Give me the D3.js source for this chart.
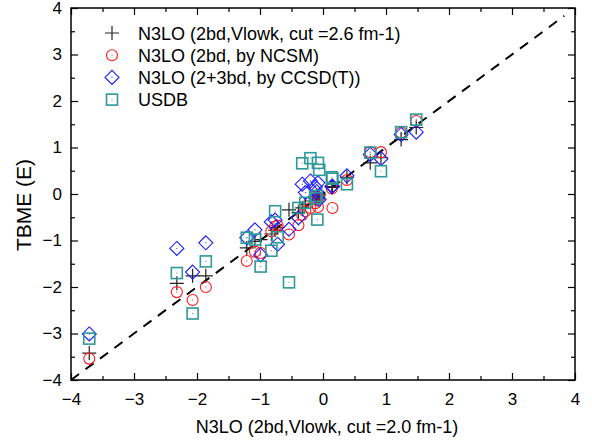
<!DOCTYPE html>
<html lang="en">

<head>
  <meta charset="UTF-8" />
  <script src="https://d3js.org/d3.v7.min.js"></script>
  <title>TBME comparison</title>
  <style>
    body { margin: 0; background: #fff; }
    text { font-family: "Liberation Sans", Arial, sans-serif; }
  </style>
</head>

<body>
  <svg width="592" height="443"></svg>

  <script>
    // x values: N3LO (2bd, Vlowk, cut = 2.0 fm-1)
    const cut20 = [-3.71, -2.32, -2.07, -1.86, -1.21, -1.08, -0.99, -0.82, -0.76, -0.72,
      -0.54, -0.39, -0.33, -0.28, -0.20, -0.12, -0.08, -0.06, -0.09, -0.10,
      0.15, 0.14, 0.38, 0.75, 0.92, 1.24, 1.48];
    // y values of the four series
    const cut26 = [-3.42, -1.92, -1.76, -1.76, -1.16, -1.02, -0.98, -0.86, -0.78, -0.72,
      -0.34, -0.40, -0.30, -0.22, -0.15, -0.10, -0.06, -0.02, -0.10, -0.05,
      0.14, 0.16, 0.36, 0.67, 0.78, 1.17, 1.43];
    const ncsm = [-3.54, -2.11, -2.28, -2.00, -1.44, -1.24, -1.27, -0.80, -0.70, -0.68,
      -0.87, -0.67, -0.45, -0.37, -0.30, -0.20, -0.28, -0.08, -0.13, -0.05,
      -0.30, 0.12, 0.30, 0.90, 0.90, 1.32, 1.57];
    const ccsdt = [-3.01, -1.17, -1.68, -1.05, -0.94, -0.77, -1.31, -0.60, -0.56, -1.08,
      -0.76, -0.51, 0.21, 0.03, 0.28, 0.15, 0.24, -0.12, -0.08, 0.05,
      0.17, 0.16, 0.39, 0.85, 0.76, 1.28, 1.33];
    const usdb = [-3.11, -1.70, -2.57, -1.45, -0.94, -0.98, -1.56, -1.22, -0.37, -0.93,
      -1.90, -0.30, 0.66, -0.19, 0.77, -0.09, 0.67, 0.52, -0.55, -0.04,
      0.33, 0.36, 0.21, 0.89, 0.49, 1.33, 1.60];

    const seriesNames = ["N3LO (2bd,Vlowk, cut =2.6 fm-1)", "N3LO (2bd, by NCSM)",
      "N3LO (2+3bd, by CCSD(T))", "USDB"];
    const majorTicks = [-4, -3, -2, -1, 0, 1, 2, 3, 4];
    const minorTicks = [-3.5, -2.5, -1.5, -0.5, 0.5, 1.5, 2.5, 3.5];

    const svg = d3.select("svg");
    const margin = { top: 8, right: 17, bottom: 63, left: 71 };
    const width = 592 - margin.left - margin.right;
    const height = 443 - margin.top - margin.bottom;

    const x = d3.scaleLinear().domain([-4, 4]).range([0, width]);
    const y = d3.scaleLinear().domain([-4, 4]).range([height, 0]);

    const chart = svg.append("g")
      .attr("transform", `translate(${margin.left},${margin.top})`);

    // axes, ticks pointing inward
    function addAxis(axis, transform, labels) {
      const g = chart.append("g").attr("transform", transform);
      g.call(axis.tickValues(majorTicks).tickSize(-7).tickPadding(labels ? 0 : 0)
        .tickFormat(labels ? d3.format("d") : ""));
      g.select(".domain").remove();
      g.selectAll("line").attr("stroke", "#000").attr("stroke-width", 1.2);
      const m = chart.append("g").attr("transform", transform);
      m.call(axis.tickValues(minorTicks).tickSize(-4).tickFormat(""));
      m.select(".domain").remove();
      m.selectAll("line").attr("stroke", "#000").attr("stroke-width", 1.2);
      return g;
    }

    const xb = addAxis(d3.axisBottom(x), `translate(0,${height})`, true);
    xb.selectAll("text").attr("y", 13).attr("font-size", 17).attr("fill", "#000");
    addAxis(d3.axisTop(x), "translate(0,0)", false);
    const yl = addAxis(d3.axisLeft(y), "translate(0,0)", true);
    yl.selectAll("text").attr("x", -9).attr("font-size", 17).attr("fill", "#000");
    addAxis(d3.axisRight(y), `translate(${width},0)`, false);

    chart.append("rect")
      .attr("width", width).attr("height", height)
      .attr("fill", "none").attr("stroke", "#000").attr("stroke-width", 1.5);

    // y = x reference line
    chart.append("line")
      .attr("x1", x(-4)).attr("y1", y(-4))
      .attr("x2", x(3.83)).attr("y2", y(3.83))
      .attr("stroke", "#000").attr("stroke-width", 2)
      .attr("stroke-dasharray", "10,8");

    const red = "#ff1a1a", blue = "#1a1aff", teal = "#2f9898";

    function cross(g, d, cx, cy) {
      g.append("path").attr("d", `M${cx - 7},${cy}H${cx + 7}M${cx},${cy - 7}V${cy + 7}`)
        .attr("stroke", "#222").attr("stroke-width", 1.2).attr("fill", "none");
    }
    function dot(g, cx, cy, c) {
      g.append("rect").attr("x", cx - 0.5).attr("y", cy - 0.5)
        .attr("width", 1).attr("height", 1).attr("fill", c);
    }
    function circle(g, d, cx, cy) {
      g.append("circle").attr("cx", cx).attr("cy", cy).attr("r", 5.5)
        .attr("fill", "none").attr("stroke", red).attr("stroke-width", 1.1);
      dot(g, cx, cy, red);
    }
    function diamond(g, d, cx, cy) {
      g.append("path").attr("d", `M${cx},${cy - 7}L${cx + 7},${cy}L${cx},${cy + 7}L${cx - 7},${cy}Z`)
        .attr("fill", "none").attr("stroke", blue).attr("stroke-width", 1.1);
      dot(g, cx, cy, blue);
    }
    function square(g, d, cx, cy) {
      g.append("rect").attr("x", cx - 5.5).attr("y", cy - 5.5)
        .attr("width", 11).attr("height", 11)
        .attr("fill", "none").attr("stroke", teal).attr("stroke-width", 1.6);
      dot(g, cx, cy, teal);
    }

    const series = [
      { values: cut26, draw: cross },
      { values: ncsm, draw: circle },
      { values: ccsdt, draw: diamond },
      { values: usdb, draw: square }
    ];

    series.forEach(s => {
      const g = chart.append("g");
      s.values.forEach((v, i) => s.draw(g, v, x(cut20[i]), y(v)));
    });

    // legend
    const legend = svg.append("g");
    seriesNames.forEach((name, i) => {
      const ly = 33 + i * 22.2;
      series[i].draw(legend, null, 112, ly);
      legend.append("text").attr("x", 138).attr("y", ly + 6.5)
        .attr("font-size", 18).attr("fill", "#000").text(name);
    });

    // axis titles
    svg.append("text")
      .attr("x", margin.left + width / 2 + 4).attr("y", 433)
      .attr("text-anchor", "middle").attr("font-size", 18)
      .text("N3LO (2bd,Vlowk, cut =2.0 fm-1)");

    svg.append("text")
      .attr("transform", "translate(31,205) rotate(-90)")
      .attr("text-anchor", "middle").attr("font-size", 21)
      .text("TBME (E)");
  </script>
</body>

</html>
